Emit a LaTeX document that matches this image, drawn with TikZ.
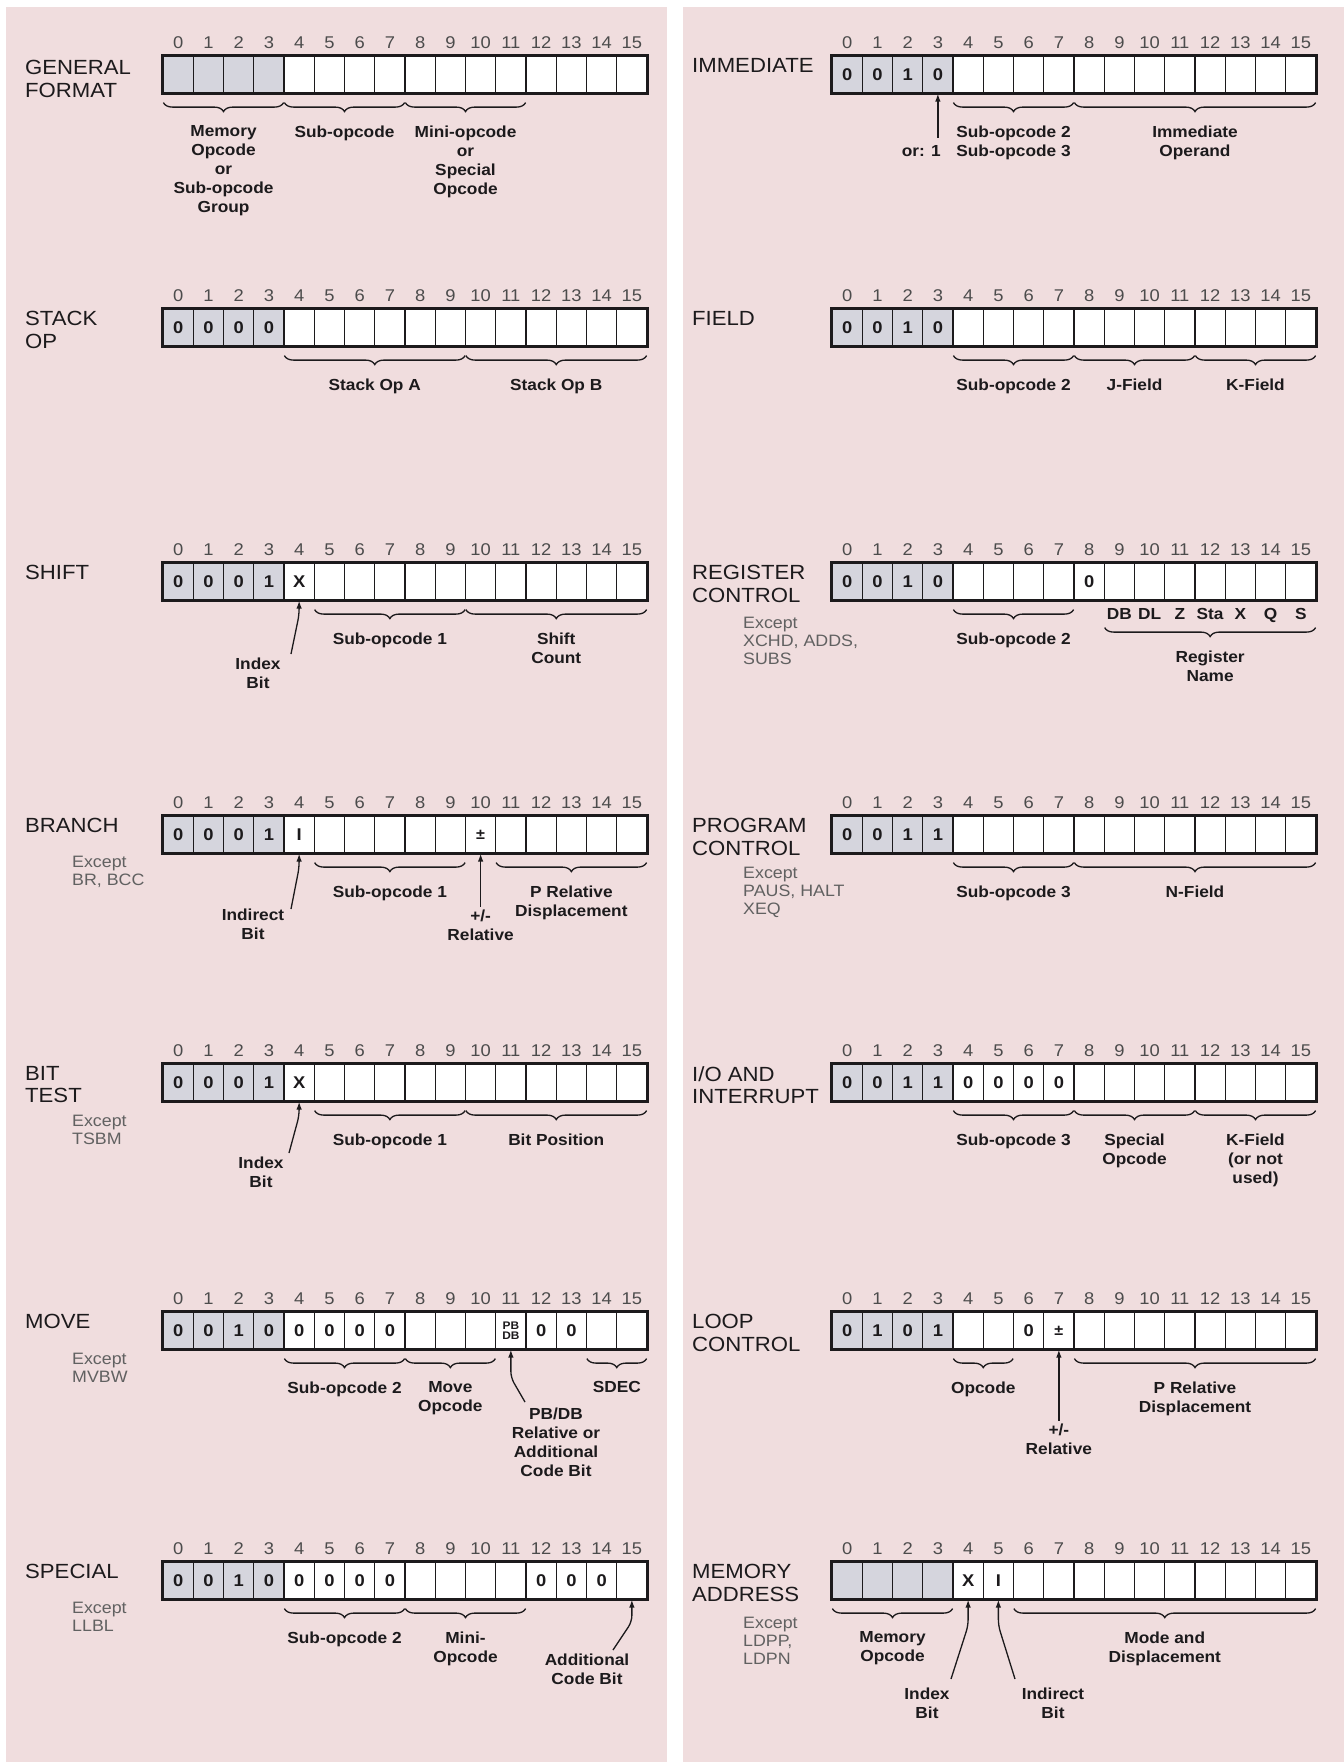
\documentclass[tikz,border=0pt]{standalone}
\usepackage{fontspec}
\setmainfont[FakeStretch=1.08]{Liberation Sans}
\usetikzlibrary{positioning,arrows.meta,calc,decorations.pathreplacing}
\definecolor{hppink}{RGB}{240,221,222}
\definecolor{hpgray}{RGB}{213,213,221}
\definecolor{hpink}{RGB}{28,26,28}

\def\cw{30.25}
\newcommand\pbdb{{\fontsize{11}{10}\selectfont\shortstack{PB\\DB}}}
\newcommand\pmsign{{\fontsize{15}{15}\selectfont ±}}

% one 16-bit word: name, left x, top y, cell contents
\newcommand\wordbox[4]{%
  \foreach \v [count=\i from 0] in {#4}{%
    \ifnum\i<4 \def\cfill{hpgray}\else\def\cfill{white}\fi
    \node[bitcell,fill=\cfill] (#1-\i) at ({#2+(\i+0.5)*\cw},{#3+18.5}) {\v};
    \node[bitnum] (#1-n\i) at ({#2+(\i+0.5)*\cw},{#3-13}) {\i};
  }
  \draw[hpink,line width=2.4pt] (#1-0.north west) rectangle (#1-15.south east);
}
% brace under a field: word, first bit, last bit, node name, text
\newcommand\fieldbrace[5]{%
  \draw[brc] ([xshift=1pt,yshift=-9pt]#1-#2.south west) -- ([xshift=-1pt,yshift=-9pt]#1-#3.south east)
    node[lbl,midway,below=22.5pt] (#4) {#5};
}

\begin{document}
\begin{tikzpicture}[x=1pt,y=-1pt,>=Latex,
  bitcell/.style={draw=hpink,line width=1.2pt,minimum width=30.25pt,minimum height=37pt,inner sep=0pt,
    text=hpink,font=\bfseries\fontsize{17}{17}\selectfont},
  bitnum/.style={inner sep=0pt,text=black!70,font=\fontsize{17}{17}\selectfont},
  ttl/.style={anchor=north west,align=left,inner sep=0pt,text=hpink,font=\fontsize{20.5}{22.5}\selectfont},
  exc/.style={anchor=north west,align=left,inner sep=0pt,text=black!62,font=\fontsize{16.5}{18}\selectfont},
  lbl/.style={align=center,inner sep=0pt,text=hpink,font=\bfseries\fontsize{16}{19}\selectfont},
  rname/.style={anchor=base,inner sep=0pt,text=hpink,font=\bfseries\fontsize{16}{16}\selectfont},
  brc/.style={decorate,decoration={brace,mirror,amplitude=9pt},draw=hpink,line width=1.3pt},
  arr/.style={-{Latex[length=8pt,width=5.5pt]},draw=hpink,line width=1.3pt,rounded corners=6pt}]
\useasboundingbox (0,0) rectangle (1344,1762);
\fill[white] (0,0) rectangle (1344,1762);
\fill[hppink] (6,7) rectangle (667,1762);
\fill[hppink] (683,7) rectangle (1344,1762);

% left column
\node[ttl] (tgen) at (25,60) {GENERAL\\FORMAT};
\wordbox{gen}{163}{56}{{},{},{},{},{},{},{},{},{},{},{},{},{},{},{},{}}
\fieldbrace{gen}{0}{3}{gmem}{Memory\\Opcode\\or\\Sub-opcode\\Group}
\fieldbrace{gen}{4}{7}{gsub}{Sub-opcode}
\fieldbrace{gen}{8}{11}{gmini}{Mini-opcode\\or\\Special\\Opcode}

\node[ttl] (tstk) at (25,311) {STACK\\OP};
\wordbox{stk}{163}{309}{0,0,0,0,{},{},{},{},{},{},{},{},{},{},{},{}}
\fieldbrace{stk}{4}{9}{sopa}{Stack Op A}
\fieldbrace{stk}{10}{15}{sopb}{Stack Op B}

\node[ttl] (tshf) at (25,565) {SHIFT};
\wordbox{shf}{163}{563}{0,0,0,1,X,{},{},{},{},{},{},{},{},{},{},{}}
\fieldbrace{shf}{5}{9}{hsub}{Sub-opcode 1}
\fieldbrace{shf}{10}{15}{hcnt}{Shift\\Count}
\node[lbl,anchor=north] (hidx) at (258,658) {Index\\Bit};
\draw[arr] ($(hidx.north)+(33,-4)$) -- ($(shf-4.south)+(0,14)$) -- (shf-4.south);

\node[ttl] (tbrn) at (25,818) {BRANCH};
\node[exc] (xbrn) at (72,856) {Except\\BR, BCC};
\wordbox{brn}{163}{816}{0,0,0,1,I,{},{},{},{},{},\pmsign,{},{},{},{},{}}
\fieldbrace{brn}{5}{9}{bsub}{Sub-opcode 1}
\fieldbrace{brn}{11}{15}{bdsp}{P Relative\\Displacement}
\node[lbl,anchor=north] (bind) at (253,909) {Indirect\\Bit};
\draw[arr] ($(bind.north)+(38,0)$) -- ($(brn-4.south)+(0,14)$) -- (brn-4.south);
\node[lbl,below=56pt of brn-10.south] (brel) {+/-\\Relative};
\draw[arr,shorten <=3pt] (brel) -- (brn-10);

\node[ttl] (tbtt) at (25,1066) {BIT\\TEST};
\node[exc] (xbtt) at (72,1115) {Except\\TSBM};
\wordbox{btt}{163}{1064}{0,0,0,1,X,{},{},{},{},{},{},{},{},{},{},{}}
\fieldbrace{btt}{5}{9}{tsub}{Sub-opcode 1}
\fieldbrace{btt}{10}{15}{tpos}{Bit Position}
\node[lbl,anchor=north] (tidx) at (261,1157) {Index\\Bit};
\draw[arr] ($(tidx.north)+(28,-4)$) -- ($(btt-4.south)+(0,14)$) -- (btt-4.south);

\node[ttl] (tmov) at (25,1314) {MOVE};
\node[exc] (xmov) at (72,1353) {Except\\MVBW};
\wordbox{mov}{163}{1312}{0,0,1,0,0,0,0,0,{},{},{},\pbdb,0,0,{},{}}
\fieldbrace{mov}{4}{7}{msub}{Sub-opcode 2}
\fieldbrace{mov}{8}{10}{mopc}{Move\\Opcode}
\fieldbrace{mov}{14}{15}{msdec}{SDEC}
\node[lbl,anchor=north] (mpb) at (556,1408) {PB/DB\\Relative or\\Additional\\Code Bit};
\draw[arr] ($(mpb.north)+(-31,-6)$) -- ($(mov-11.south)+(0,28)$) -- (mov-11.south);

\node[ttl] (tspc) at (25,1564) {SPECIAL};
\node[exc] (xspc) at (72,1602) {Except\\LLBL};
\wordbox{spc}{163}{1562}{0,0,1,0,0,0,0,0,{},{},{},{},0,0,0,{}}
\fieldbrace{spc}{4}{7}{psub}{Sub-opcode 2}
\fieldbrace{spc}{8}{11}{pmini}{Mini-\\Opcode}
\node[lbl,anchor=north] (padd) at (587,1654) {Additional\\Code Bit};
\draw[arr] ($(padd.north)+(26,-4)$) -- ($(spc-15.south)+(0,22)$) -- (spc-15.south);

% right column
\node[ttl] (timm) at (692,58) {IMMEDIATE};
\wordbox{imm}{832}{56}{0,0,1,0,{},{},{},{},{},{},{},{},{},{},{},{}}
\fieldbrace{imm}{4}{7}{isub}{Sub-opcode 2\\Sub-opcode 3}
\fieldbrace{imm}{8}{15}{iopd}{Immediate\\Operand}
\node[lbl,anchor=base east] (ior) at (941,156) {or: 1};
\coordinate (iorl) at ($(imm-3.south)+(0,44)$);
\draw[arr] (iorl) -- (imm-3.south);

\node[ttl] (tfld) at (692,311) {FIELD};
\wordbox{fld}{832}{309}{0,0,1,0,{},{},{},{},{},{},{},{},{},{},{},{}}
\fieldbrace{fld}{4}{7}{fsub}{Sub-opcode 2}
\fieldbrace{fld}{8}{11}{fj}{J-Field}
\fieldbrace{fld}{12}{15}{fk}{K-Field}

\node[ttl] (treg) at (692,565) {REGISTER\\CONTROL};
\node[exc] (xreg) at (743,617) {Except\\XCHD, ADDS,\\SUBS};
\wordbox{reg}{832}{563}{0,0,1,0,{},{},{},{},0,{},{},{},{},{},{},{}}
\fieldbrace{reg}{4}{7}{rsub}{Sub-opcode 2}
\foreach \c/\t in {9/DB,10/DL,11/Z,12/Sta,13/X,14/Q,15/S}{\node[rname] (rn\c) at ($(reg-\c.south)+(0,19)$) {\t};}
\draw[brc] ([xshift=1pt,yshift=-27pt]reg-9.south west) -- ([xshift=-1pt,yshift=-27pt]reg-15.south east)
  node[lbl,midway,below=22.5pt] (rreg) {Register\\Name};

\node[ttl] (tprg) at (692,818) {PROGRAM\\CONTROL};
\node[exc] (xprg) at (743,867) {Except\\PAUS, HALT\\XEQ};
\wordbox{prg}{832}{816}{0,0,1,1,{},{},{},{},{},{},{},{},{},{},{},{}}
\fieldbrace{prg}{4}{7}{gsub3}{Sub-opcode 3}
\fieldbrace{prg}{8}{15}{gnf}{N-Field}

\node[ttl] (tioi) at (692,1066) {I/O AND\\INTERRUPT};
\wordbox{ioi}{832}{1064}{0,0,1,1,0,0,0,0,{},{},{},{},{},{},{},{}}
\fieldbrace{ioi}{4}{7}{osub}{Sub-opcode 3}
\fieldbrace{ioi}{8}{11}{ospc}{Special\\Opcode}
\fieldbrace{ioi}{12}{15}{okf}{K-Field\\(or not\\used)}

\node[ttl] (tlop) at (692,1314) {LOOP\\CONTROL};
\wordbox{lop}{832}{1312}{0,1,0,1,{},{},0,\pmsign,{},{},{},{},{},{},{},{}}
\fieldbrace{lop}{4}{5}{lopc}{Opcode}
\fieldbrace{lop}{8}{15}{ldsp}{P Relative\\Displacement}
\node[lbl,below=74pt of lop-7.south] (lrel) {+/-\\Relative};
\draw[arr,shorten <=3pt] (lrel) -- (lop-7);

\node[ttl] (tmem) at (692,1564) {MEMORY\\ADDRESS};
\node[exc] (xmem) at (743,1617) {Except\\LDPP,\\LDPN};
\wordbox{mem}{832}{1562}{{},{},{},{},X,I,{},{},{},{},{},{},{},{},{},{}}
\fieldbrace{mem}{0}{3}{emem}{Memory\\Opcode}
\fieldbrace{mem}{6}{15}{emode}{Mode and\\Displacement}
\node[lbl,anchor=north] (eidx) at (927,1688) {Index\\Bit};
\node[lbl,anchor=north] (eind) at (1053,1688) {Indirect\\Bit};
\draw[arr] ($(eidx.north)+(24,-9)$) -- ($(mem-4.south)+(0,26)$) -- (mem-4.south);
\draw[arr] ($(eind.north)+(-38,-9)$) -- ($(mem-5.south)+(0,26)$) -- (mem-5.south);
\end{tikzpicture}
\end{document}
